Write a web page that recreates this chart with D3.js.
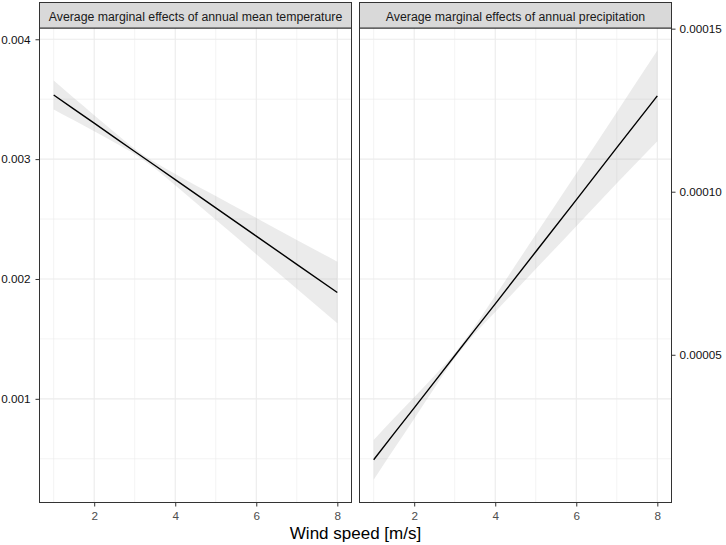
<!DOCTYPE html>
<html><head><meta charset="utf-8">
<script src="https://cdn.jsdelivr.net/npm/d3@7"></script>
<style>
body{margin:0;background:#fff}
svg{display:block}
text{font-family:"Liberation Sans",Arial,Helvetica,sans-serif}
</style>
</head><body>
<svg id="c" width="726" height="545"></svg>
<script>
// ---------------- data ----------------
const windSpeed = [1, 1.5, 2, 2.5, 3, 3.5, 4, 5, 6, 7, 8];

const tempEffect = [0.003535, 0.003417, 0.003300, 0.003182, 0.003064, 0.002947, 0.002829, 0.002593, 0.002358, 0.002122, 0.001887];
const tempLower  = [0.003415, 0.003324, 0.003233, 0.003139, 0.003041, 0.002921, 0.002782, 0.002494, 0.002207, 0.001918, 0.001630];
const tempUpper  = [0.003655, 0.003510, 0.003367, 0.003225, 0.003087, 0.002973, 0.002876, 0.002692, 0.002509, 0.002326, 0.002144];

const precEffect = [0.0000178, 0.0000258, 0.0000337, 0.0000417, 0.0000497, 0.0000577, 0.0000656, 0.0000816, 0.0000975, 0.0001135, 0.0001294];
const precLower  = [0.0000117, 0.0000211, 0.0000304, 0.0000398, 0.0000489, 0.0000565, 0.0000631, 0.0000763, 0.0000894, 0.0001026, 0.0001155];
const precUpper  = [0.0000239, 0.0000305, 0.0000370, 0.0000436, 0.0000505, 0.0000589, 0.0000681, 0.0000869, 0.0001056, 0.0001244, 0.0001433];

const panelTitles = ["Average marginal effects of annual mean temperature", "Average marginal effects of annual precipitation"];
const xTicks = [2, 4, 6, 8];
const leftTicks = [0.001, 0.002, 0.003, 0.004];
const rightTicks = [0.00005, 0.00010, 0.00015];
const xTitle = "Wind speed [m/s]";

// ---------------- layout ----------------
const svg = d3.select("#c");
const pTop = 28, pBottom = 502.5, stripTop = 2.5;
const panelLefts = [39.5, 359.5];
const panelW = 312;

const yL = d3.scaleLinear().domain([0.000135, 0.004094]).range([pBottom, pTop]);
const yR = d3.scaleLinear().domain([0.0000047, 0.0001502]).range([pBottom, pTop]);
const xs = panelLefts.map(l => d3.scaleLinear().domain([0.65, 8.35]).range([l, l + panelW]));

const yAll = yL.ticks(8);
const yMinor = yAll.filter(v => !leftTicks.some(t => Math.abs(t - v) < 1e-9));
const xAll = xs[0].ticks(8);
const xMinor = xAll.filter(v => !xTicks.includes(v));

const series = [
  {eff: tempEffect, lo: tempLower, hi: tempUpper, y: yL},
  {eff: precEffect, lo: precLower, hi: precUpper, y: yR}
];

panelLefts.forEach((l, i) => {
  const x = xs[i];
  const g = svg.append("g");
  g.append("rect").attr("x", l).attr("y", pTop).attr("width", panelW).attr("height", pBottom - pTop).attr("fill", "#fff");
  // minor grid
  g.selectAll(".ymn").data(yMinor).join("line")
    .attr("x1", l).attr("x2", l + panelW).attr("y1", d => yL(d)).attr("y2", d => yL(d))
    .attr("stroke", "#EBEBEB").attr("stroke-width", 0.6);
  g.selectAll(".xmn").data(xMinor).join("line")
    .attr("y1", pTop).attr("y2", pBottom).attr("x1", d => x(d)).attr("x2", d => x(d))
    .attr("stroke", "#EBEBEB").attr("stroke-width", 0.6);
  // major grid
  g.selectAll(".ymj").data(leftTicks).join("line")
    .attr("x1", l).attr("x2", l + panelW).attr("y1", d => yL(d)).attr("y2", d => yL(d))
    .attr("stroke", "#EBEBEB").attr("stroke-width", 1.1);
  g.selectAll(".xmj").data(xTicks).join("line")
    .attr("y1", pTop).attr("y2", pBottom).attr("x1", d => x(d)).attr("x2", d => x(d))
    .attr("stroke", "#EBEBEB").attr("stroke-width", 1.1);

  const s = series[i];
  const pts = windSpeed.map((w, k) => ({w, e: s.eff[k], lo: s.lo[k], hi: s.hi[k]}));
  g.append("path").datum(pts)
    .attr("d", d3.area().x(d => x(d.w)).y0(d => s.y(d.lo)).y1(d => s.y(d.hi)).curve(d3.curveMonotoneX))
    .attr("fill", "#999999").attr("fill-opacity", 0.2);
  g.append("path").datum(pts)
    .attr("d", d3.line().x(d => x(d.w)).y(d => s.y(d.e)))
    .attr("fill", "none").attr("stroke", "#000").attr("stroke-width", 1.4);

  // border
  g.append("rect").attr("x", l).attr("y", pTop).attr("width", panelW).attr("height", pBottom - pTop)
    .attr("fill", "none").attr("stroke", "#333333").attr("stroke-width", 1);
  // strip
  g.append("rect").attr("x", l).attr("y", stripTop).attr("width", panelW).attr("height", pTop - stripTop)
    .attr("fill", "#D9D9D9").attr("stroke", "#333333").attr("stroke-width", 1);
  g.append("text").attr("x", l + panelW / 2).attr("y", 20.5).attr("text-anchor", "middle")
    .attr("font-size", "12.3px").attr("fill", "#1A1A1A").text(panelTitles[i]);

  // x axis
  const ax = g.append("g").attr("transform", `translate(0,${pBottom})`)
    .call(d3.axisBottom(x).tickValues(xTicks).tickSize(4).tickPadding(5).tickFormat(d3.format("d")));
  ax.select(".domain").remove();
  ax.selectAll("line").attr("stroke", "#333333");
  ax.selectAll("text").attr("font-size", "11.7px").attr("fill", "#4D4D4D").attr("font-family", null);
});

// left y axis
const axL = svg.append("g").attr("transform", `translate(${panelLefts[0]},0)`)
  .call(d3.axisLeft(yL).tickValues(leftTicks).tickSize(4).tickPadding(5).tickFormat(d3.format(".3f")));
axL.select(".domain").remove();
axL.selectAll("line").attr("stroke", "#333333");
axL.selectAll("text").attr("font-size", "11.7px").attr("fill", "#111").attr("font-family", null);

// right y axis (secondary)
const axR = svg.append("g").attr("transform", `translate(${panelLefts[1] + panelW},0)`)
  .call(d3.axisRight(yR).tickValues(rightTicks).tickSize(4).tickPadding(4).tickFormat(d3.format(".5f")));
axR.select(".domain").remove();
axR.selectAll("line").attr("stroke", "#333333");
axR.selectAll("text").attr("font-size", "11.7px").attr("fill", "#111").attr("font-family", null);

// x title
svg.append("text").attr("x", (panelLefts[0] + panelLefts[1] + panelW) / 2).attr("y", 539)
  .attr("text-anchor", "middle").attr("font-size", "17px").attr("fill", "#000").text(xTitle);
</script>
</body></html>
